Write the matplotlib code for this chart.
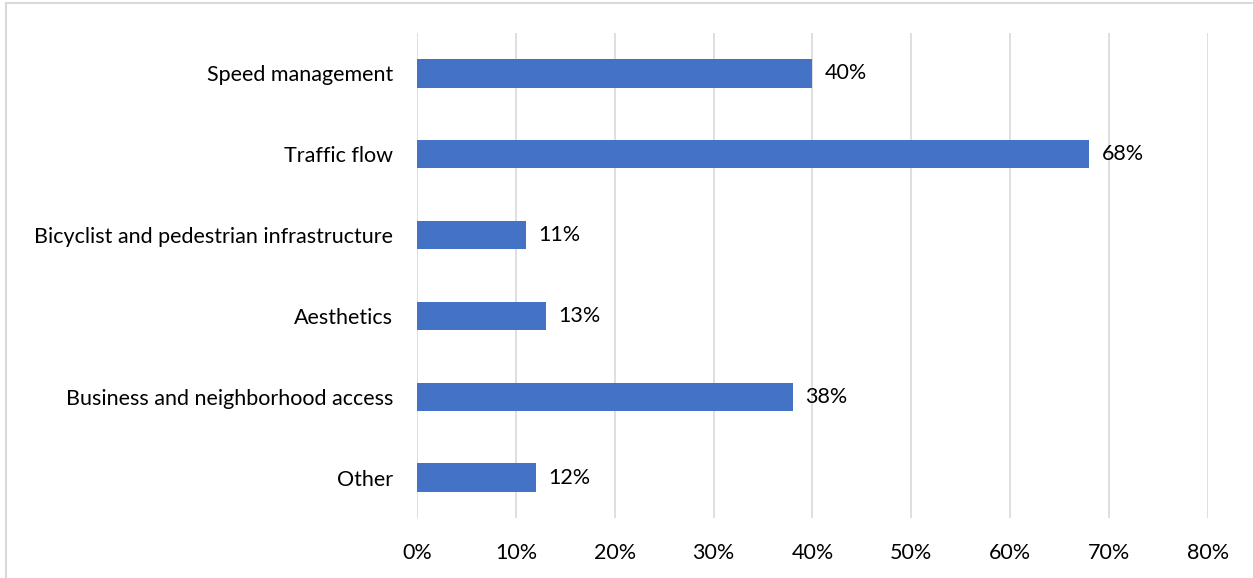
import matplotlib
matplotlib.use("Agg")
import matplotlib.pyplot as plt
from matplotlib.patches import Rectangle

# Categorie (dall'alto verso il basso) e percentuali
categories = [
    "Speed management",
    "Traffic flow",
    "Bicyclist and pedestrian infrastructure",
    "Aesthetics",
    "Business and neighborhood access",
    "Other",
]
values = [40, 68, 11, 13, 38, 12]
ticks = [0, 10, 20, 30, 40, 50, 60, 70, 80]

BAR_COLOR = "#4472C4"
GRID_COLOR = "#D9D9D9"
FS = 15.5

plt.rcParams["font.family"] = ["Lato", "DejaVu Sans"]

fig = plt.figure(figsize=(12.53, 5.78), dpi=100)
ax = fig.add_axes([417 / 1253, 1 - 518 / 578, (1208 - 417) / 1253, (518 - 33) / 578])

# Le barre: la prima categoria va in alto
pos = list(range(len(categories)))[::-1]
ax.barh(pos, values, height=0.35, color=BAR_COLOR, zorder=3)

# Etichette con il valore accanto a ogni barra
for y, v in zip(pos, values):
    ax.annotate(f"{v}%", xy=(v, y), xytext=(9, 0), textcoords="offset points",
                va="center", ha="left", fontsize=FS, color="#000000")

ax.set_xlim(0, 80)
ax.set_ylim(-0.5, len(categories) - 0.5)
ax.set_xticks(ticks)
ax.set_xticklabels([f"{t}%" for t in ticks], fontsize=FS)
ax.set_yticks(pos)
ax.set_yticklabels(categories, fontsize=FS)
ax.tick_params(axis="both", length=0)
ax.tick_params(axis="x", pad=18)
ax.tick_params(axis="y", pad=17)

ax.grid(axis="x", color=GRID_COLOR, linewidth=1.2, zorder=0)
for s in ax.spines.values():
    s.set_visible(False)

# Cornice grigia attorno al grafico
fig.patches.append(Rectangle((6 / 1253, -0.02), 1.1, 1 - 3 / 578 + 0.02,
                             transform=fig.transFigure, fill=False,
                             edgecolor=GRID_COLOR, linewidth=1.5))

fig.savefig("out.png", dpi=100)
